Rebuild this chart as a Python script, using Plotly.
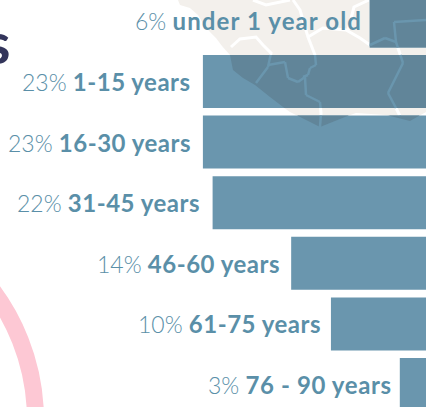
import plotly.graph_objects as go

# ---- data ----
age_groups = ["under 1 year old", "1-15 years", "16-30 years", "31-45 years",
              "46-60 years", "61-75 years", "76 - 90 years"]
shares = [5.8, 23.0, 23.0, 22.0, 13.9, 9.8, 2.7]
share_labels = ["6%", "23%", "23%", "22%", "14%", "10%", "3%"]

BAR = "#6A96AE"
BAR_DARK = "#618599"
LAND = "#F3F0EC"
TEXT_LIGHT = "#5A8FA8"
TEXT_BOLD = "#5A8FA8"
W, H = 426, 407
PX_PER_UNIT = 9.7
PITCH = 60.6
FIRST_CENTER = 20.9
BAR_WIDTH = 0.875
label_gaps = [-6, -10, -10, -11, -9, -8, -6]
label_spacing = [1.1, 0.5, 0.5, 0.5, 0.5, 0.5, 0.6]

# decorative background map, in page pixels
land = [(178, 0), (180, 5), (190, 8), (198, 15), (204, 25), (210, 32), (216, 38), (222, 46),
        (230, 55), (233, 70), (243, 78), (255, 85), (270, 97), (283, 107), (290, 112),
        (320, 127), (345, 117), (356, 113), (386, 115), (398, 118), (410, 121), (426, 112),
        (426, 0)]
borders = [
    [(231, 47), (240, 39), (256, 37), (263, 45), (271, 53), (268, 67), (256, 83)],
    [(268, 65), (285, 62), (288, 78), (298, 82), (305, 77), (306, 95), (320, 102), (321, 113), (320, 127)],
    [(293, 0), (300, 10), (308, 37), (315, 55), (316, 65), (310, 68), (308, 75), (303, 77)],
    [(253, 0), (266, 5), (290, 0)],
    [(308, 37), (323, 28), (346, 30), (360, 38), (370, 45), (385, 38), (396, 42), (403, 63),
     (388, 93), (396, 108), (400, 116)],
    [(369, 0), (354, 7), (348, 30)],
    [(426, 20), (394, 22), (396, 42)],
]


def clip_poly(poly, x0, y0, x1, y1):
    tests = [(lambda p: p[0] >= x0, lambda a, b: (x0, a[1] + (b[1] - a[1]) * (x0 - a[0]) / (b[0] - a[0]))),
             (lambda p: p[0] <= x1, lambda a, b: (x1, a[1] + (b[1] - a[1]) * (x1 - a[0]) / (b[0] - a[0]))),
             (lambda p: p[1] >= y0, lambda a, b: (a[0] + (b[0] - a[0]) * (y0 - a[1]) / (b[1] - a[1]), y0)),
             (lambda p: p[1] <= y1, lambda a, b: (a[0] + (b[0] - a[0]) * (y1 - a[1]) / (b[1] - a[1]), y1))]
    out = list(poly)
    for inside, cross in tests:
        src, out = out, []
        for i, cur in enumerate(src):
            prev = src[i - 1]
            if inside(cur):
                if not inside(prev):
                    out.append(cross(prev, cur))
                out.append(cur)
            elif inside(prev):
                out.append(cross(prev, cur))
    return out


def clip_segment(a, b, x0, y0, x1, y1):
    t0, t1 = 0.0, 1.0
    dx, dy = b[0] - a[0], b[1] - a[1]
    for p, q in ((-dx, a[0] - x0), (dx, x1 - a[0]), (-dy, a[1] - y0), (dy, y1 - a[1])):
        if p == 0:
            if q < 0:
                return None
        else:
            r = q / p
            if p < 0:
                t0 = max(t0, r)
            else:
                t1 = min(t1, r)
    if t0 >= t1:
        return None
    return (a[0] + t0 * dx, a[1] + t0 * dy), (a[0] + t1 * dx, a[1] + t1 * dy)


def path(points, close=False):
    s = "M" + " L".join(f"{x},{y}" for x, y in points)
    return s + (" Z" if close else "")


fig = go.Figure()
fig.add_trace(go.Bar(y=age_groups, x=shares, orientation="h", width=BAR_WIDTH,
                     marker=dict(color=BAR, line=dict(width=0)), hoverinfo="skip"))

# map seen through the bars
dark_x, dark_y, line_x, line_y = [], [], [], []
for i, v in enumerate(shares):
    cy = FIRST_CENTER + i * PITCH
    rect = (W - v * PX_PER_UNIT, cy - BAR_WIDTH * PITCH / 2, W, cy + BAR_WIDTH * PITCH / 2)
    piece = clip_poly(land, *rect)
    if piece:
        dark_x += [p[0] for p in piece] + [piece[0][0], None]
        dark_y += [p[1] for p in piece] + [piece[0][1], None]
    for b in borders:
        for a, c in zip(b, b[1:]):
            seg = clip_segment(a, c, *rect)
            if seg:
                line_x += [seg[0][0], seg[1][0], None]
                line_y += [seg[0][1], seg[1][1], None]

fig.add_trace(go.Scatter(x=dark_x, y=dark_y, xaxis="x2", yaxis="y2", mode="lines", fill="toself",
                         fillcolor=BAR_DARK, line=dict(width=0), hoverinfo="skip"))
fig.add_trace(go.Scatter(x=line_x, y=line_y, xaxis="x2", yaxis="y2", mode="lines",
                         line=dict(color=BAR, width=2.5), hoverinfo="skip"))

shapes = [dict(type="path", xref="x2", yref="y2", layer="below", path=path(land, True),
               fillcolor=LAND, line=dict(width=0))]
for b in borders:
    shapes.append(dict(type="path", xref="x2", yref="y2", layer="below", path=path(b),
                       line=dict(color="white", width=3)))
# pink ring
shapes.append(dict(type="circle", xref="x2", yref="y2", layer="below",
                   x0=-181 - 216.5, x1=-181 + 216.5, y0=420 - 216.5, y1=420 + 216.5,
                   line=dict(color="#FDC8D4", width=17)))

annotations = [dict(xref="x", yref="y", x=v, y=g, xanchor="right", xshift=gap, yshift=0, showarrow=False,
                    text=(f"{lab} <span style='font-weight:bold;font-size:24px;"
                          f"letter-spacing:{sp}px;color:{TEXT_BOLD}'>{g}</span>"),
                    font=dict(family="Lato", size=23, color=TEXT_LIGHT, weight=300))
               for g, v, lab, gap, sp in zip(age_groups, shares, share_labels, label_gaps, label_spacing)]
annotations.append(dict(xref="paper", yref="paper", x=13 / W, y=1 - 42 / H, xanchor="right", yanchor="middle",
                        showarrow=False, text="<b>s</b>",
                        font=dict(family="Lato", size=58, color="#33355B")))

fig.update_layout(
    width=W, height=H, margin=dict(l=0, r=0, t=0, b=0), showlegend=False,
    paper_bgcolor="white", plot_bgcolor="rgba(0,0,0,0)",
    xaxis=dict(range=[W / PX_PER_UNIT, 0], visible=False, fixedrange=True),
    yaxis=dict(range=[(H - FIRST_CENTER) / PITCH, -FIRST_CENTER / PITCH], visible=False,
               categoryorder="array", categoryarray=age_groups, fixedrange=True),
    xaxis2=dict(range=[0, W], overlaying="x", visible=False, fixedrange=True),
    yaxis2=dict(range=[H, 0], overlaying="y", visible=False, fixedrange=True),
    shapes=shapes, annotations=annotations,
)
fig.write_html("out.html", config=dict(displayModeBar=False),
               post_script="document.body.style.margin='0';document.body.style.overflow='hidden';")
